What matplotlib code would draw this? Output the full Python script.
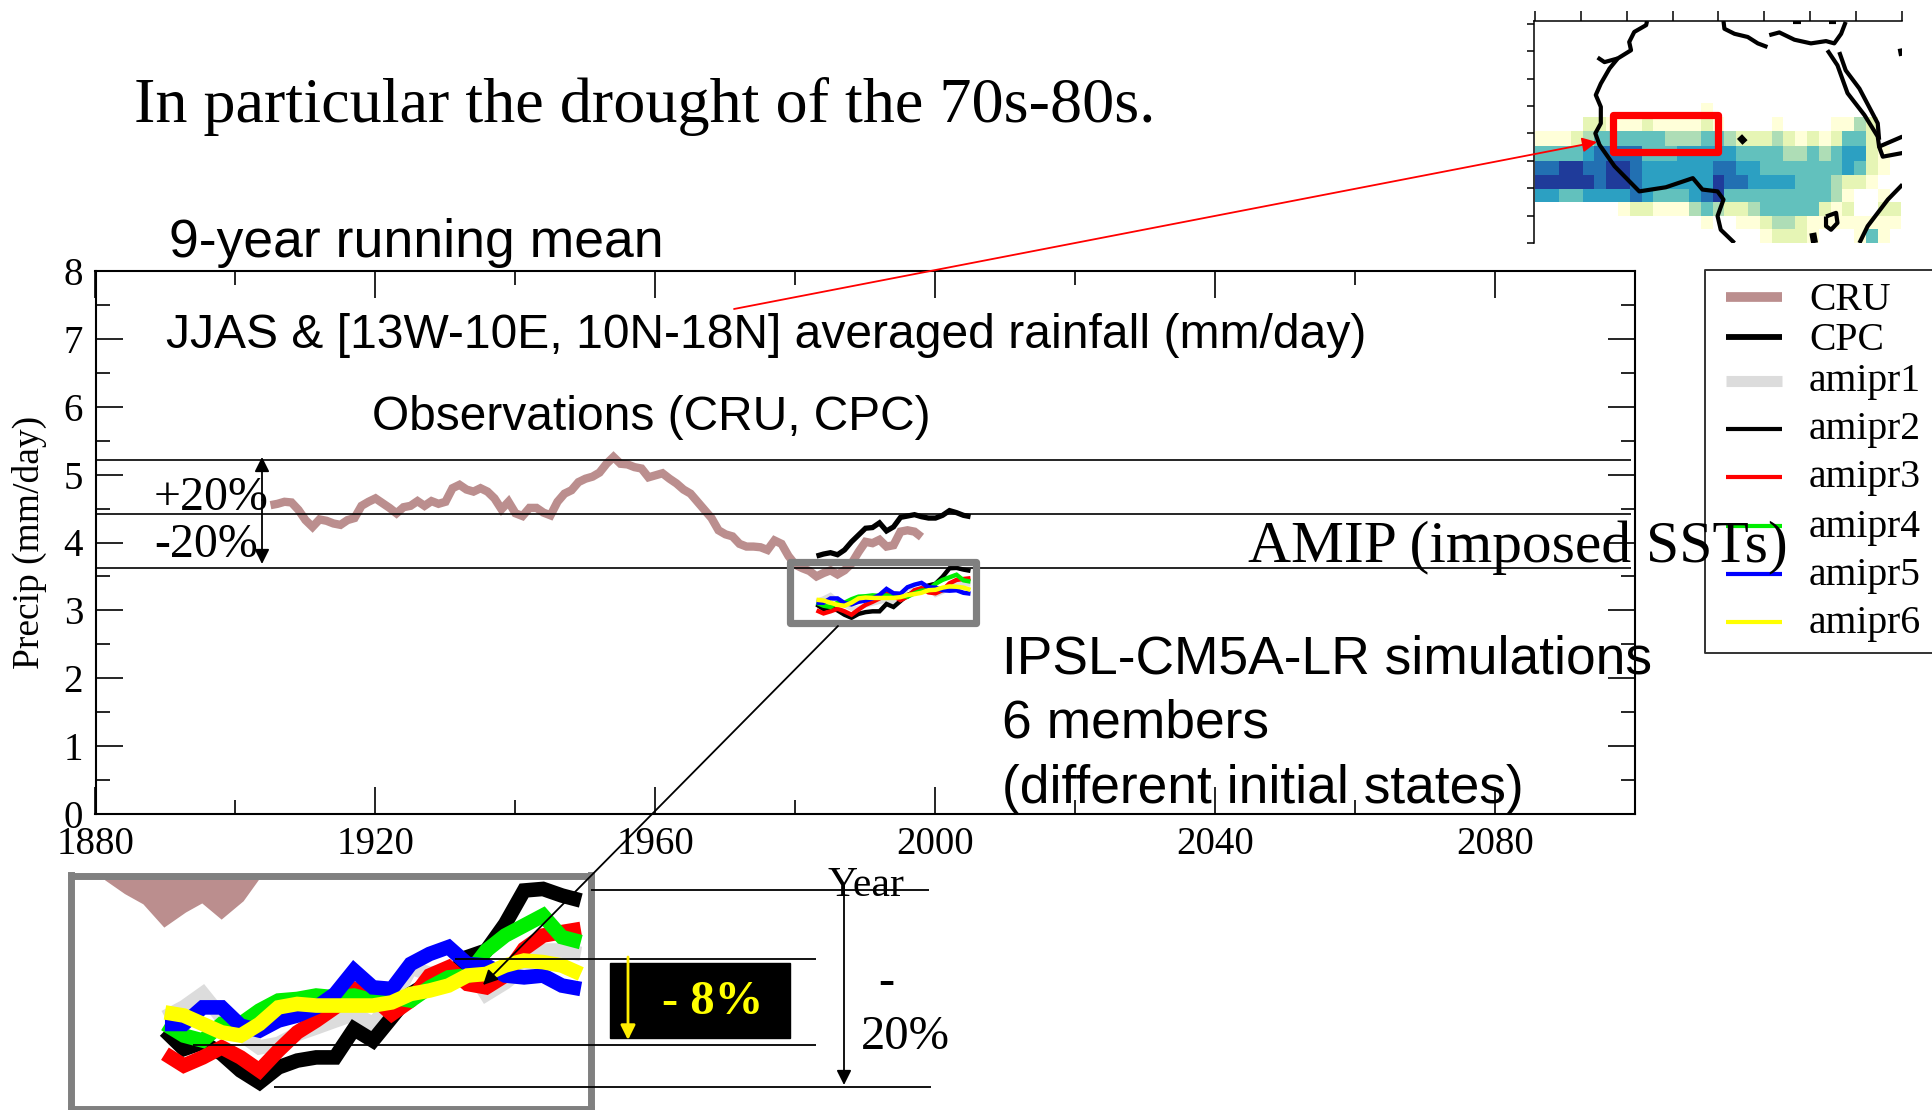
import matplotlib
matplotlib.use("Agg")
import matplotlib.pyplot as plt
from matplotlib.colors import ListedColormap
from matplotlib.patches import Rectangle
import numpy as np

plt.rcParams["font.family"] = ["Liberation Serif", "DejaVu Serif"]
plt.rcParams["lines.solid_capstyle"] = "butt"
SANS = ["Liberation Sans", "DejaVu Sans"]

# Observations
cru_years = list(range(1905, 1999))
cru = [4.55, 4.57, 4.60, 4.59, 4.48, 4.33, 4.23, 4.34, 4.32, 4.28, 4.26, 4.33, 4.36, 4.54, 4.60, 4.65,
       4.58, 4.51, 4.43, 4.52, 4.54, 4.61, 4.54, 4.61, 4.57, 4.60, 4.80, 4.85, 4.78, 4.75, 4.80, 4.75,
       4.65, 4.49, 4.60, 4.43, 4.39, 4.51, 4.51, 4.44, 4.40, 4.60, 4.72, 4.77, 4.89, 4.94, 4.97, 5.03,
       5.16, 5.26, 5.16, 5.15, 5.11, 5.09, 4.96, 4.99, 5.02, 4.94, 4.87, 4.78, 4.72, 4.60, 4.48, 4.36,
       4.18, 4.12, 4.09, 3.98, 3.94, 3.94, 3.93, 3.89, 4.03, 3.98, 3.80, 3.67, 3.62, 3.58, 3.50, 3.55,
       3.59, 3.53, 3.59, 3.69, 3.86, 4.01, 3.99, 4.04, 3.94, 3.96, 4.16, 4.18, 4.16, 4.08]
model_years = list(range(1983, 2006))
cpc = [3.80, 3.83, 3.85, 3.82, 3.89, 4.01, 4.11, 4.21, 4.22, 4.29, 4.17, 4.23, 4.37, 4.39, 4.41, 4.38,
       4.36, 4.36, 4.40, 4.47, 4.44, 4.40, 4.38]

# AMIP members
amipr1 = [3.138, 3.176, 3.227, 3.138, 3.075, 3.024, 3.037, 3.075, 3.100, 3.126, 3.151, 3.113, 3.189,
          3.328, 3.303, 3.316, 3.341, 3.227, 3.271, 3.328, 3.392, 3.392, 3.379]
amipr2 = [3.088, 3.018, 3.043, 3.000, 2.936, 2.891, 2.948, 2.974, 2.986, 2.986, 3.094, 3.050, 3.138,
          3.227, 3.271, 3.290, 3.367, 3.392, 3.493, 3.620, 3.626, 3.601, 3.582]
amipr3 = [3.000, 2.955, 2.986, 3.024, 2.986, 2.936, 3.012, 3.081, 3.126, 3.176, 3.246, 3.214, 3.151,
          3.202, 3.297, 3.328, 3.265, 3.252, 3.297, 3.398, 3.449, 3.462, 3.474]
amipr4 = [3.113, 3.069, 3.050, 3.113, 3.113, 3.164, 3.202, 3.208, 3.221, 3.214, 3.221, 3.202, 3.214,
          3.202, 3.252, 3.290, 3.297, 3.392, 3.449, 3.487, 3.525, 3.443, 3.424]
amipr5 = [3.113, 3.113, 3.176, 3.176, 3.107, 3.088, 3.126, 3.145, 3.176, 3.227, 3.316, 3.252, 3.246,
          3.341, 3.379, 3.405, 3.341, 3.335, 3.297, 3.290, 3.297, 3.259, 3.246]
amipr6 = [3.157, 3.145, 3.113, 3.081, 3.069, 3.113, 3.176, 3.189, 3.183, 3.183, 3.183, 3.183, 3.195,
          3.227, 3.240, 3.259, 3.297, 3.303, 3.335, 3.354, 3.348, 3.335, 3.303]
members = [amipr1, amipr2, amipr3, amipr4, amipr5, amipr6]
member_colors = ["#dcdcdc", "black", "red", "#00ee00", "blue", "yellow"]

ref_levels = [5.22, 4.42, 3.62]

legend_labels = ["CRU", "CPC", "amipr1", "amipr2", "amipr3", "amipr4", "amipr5", "amipr6"]
legend_colors = ["#bb8e8e", "black"] + member_colors

# Rainfall map, colour class per cell, top row first
lon_edges = [-30 + 2.58 * i for i in range(32)]
lat_edges = [20.6, 17.5, 14.5, 11.3, 8.0, 4.9, 1.9, -1.0, -4.1, -7.0, -10.0]
rain_cells = [
    [0,0,0,0,0,0,0,0,0,0,0,0,0,0,1,0,0,0,0,0,0,0,0,0,0,0,0,0,0,0,0],
    [0,0,0,0,2,2,1,1,1,2,1,1,1,1,2,1,0,0,0,0,1,0,0,0,0,1,1,3,2,0,0],
    [1,1,1,2,3,4,4,4,4,4,4,3,3,3,4,4,3,2,2,2,3,2,1,2,1,2,4,4,2,0,0],
    [4,4,4,4,5,6,6,6,6,4,4,4,5,5,5,5,5,4,4,4,4,3,3,4,3,4,5,5,2,1,0],
    [6,6,7,7,6,6,7,7,6,5,5,5,5,5,5,6,6,5,5,4,4,4,4,4,4,4,5,4,2,1,0],
    [7,7,7,7,7,6,7,7,6,5,5,5,5,5,5,7,6,6,5,5,5,5,4,4,4,3,2,2,1,0,0],
    [5,5,4,4,5,5,5,5,6,5,4,4,4,5,6,7,4,4,4,4,4,4,4,4,4,3,1,0,0,1,0],
    [0,0,0,0,0,0,0,1,2,2,1,1,1,3,4,3,2,2,3,4,4,4,4,4,2,1,2,0,0,2,2],
    [0,0,0,0,0,0,0,0,0,0,0,0,0,0,1,0,0,1,1,2,3,3,2,1,1,1,1,1,1,1,1],
    [0,0,0,0,0,0,0,0,0,0,0,0,0,0,0,0,0,0,0,1,2,2,2,1,0,0,0,1,4,1,0],
]
rain_colors = ["white", "#ffffd9", "#e6f5b5", "#aeddb6", "#62c1bd", "#2ca0c2", "#2270b2", "#1f3b9a"]

coast_lines = [
    [(-5.6,38.6),(-5.8,37.7),(-8.4,36.2),(-9.5,34.0),(-9.1,32.2),(-12.0,30.4),(-13.8,28.2),(-15.7,24.9),
     (-16.8,22.4),(-15.7,19.8),(-15.7,16.2),(-16.9,14.0),(-16.0,11.5),(-12.7,6.8),(-7.3,1.3),(-1.5,2.2),
     (4.4,4.2),(6.5,1.7),(9.8,1.3),(11.1,-0.5),(9.8,-4.1),(10.5,-7.1),(13.5,-10)],
    [(11.1,38.6),(11.3,36.9),(13.5,35.8),(16.4,35.1),(18.6,33.7),(20.7,32.9)],
    [(21.1,35.5),(23.3,36.1),(26.6,34.5),(30.2,33.7),(33.5,34.2),(35.3,33.7),(36.8,35.8),(37.8,38.4)],
    [(33.8,32.2),(36.0,28.9),(38.2,22.8),(41.9,18.0),(44.8,13.3),(45.1,11.1),(50.2,13.3)],
    [(36.4,31.8),(37.8,27.8),(40.8,23.8),(44.8,16.2),(45.1,12.6)],
    [(45.1,11.1),(45.9,8.9),(50.2,9.7)],
    [(50.2,2.8),(47,-0.5),(42.6,-6.3),(40.8,-10)],
    [(33.5,-4.2),(35.7,-3.4),(36.0,-5.6),(34.6,-7.1),(33.5,-6.3),(33.5,-4.2)],
    [(-16.4,30.6),(-14.9,29.6),(-12.0,30.4)],
    [(26.2,38.3),(28,38.3)],
    [(34.2,38.3),(35.7,38.3)],
]
lake_blobs = [[(14.6,13.3),(15.8,12.0)], [(30.6,-7.8),(31,-10)], [(49.9,32.6),(50.2,31)]]

W, H = 1932, 1110
fig = plt.figure(figsize=(W / 100, H / 100), dpi=100, facecolor="white")


def px_axes(left, top, right, bottom, **kw):
    return fig.add_axes([left / W, 1 - bottom / H, (right - left) / W, (bottom - top) / H], **kw)


def draw_members(ax, lw):
    for vals, col in zip(members, member_colors):
        ax.plot(model_years, vals, color=col, lw=lw, solid_joinstyle="miter")


# Main chart
ax = px_axes(95.5, 271, 1635.5, 814)
ax.plot(cru_years, cru, color=legend_colors[0], lw=6, solid_joinstyle="miter")
ax.plot(model_years, cpc, color="black", lw=3.8, solid_joinstyle="miter")
draw_members(ax, 3.2)
for lev in ref_levels:
    ax.plot([1880, 2099.3], [lev, lev], color="black", lw=1.2)
ax.set_xlim(1880, 2100)
ax.set_ylim(0, 8)
ax.set_xticks(np.arange(1880, 2100, 40))
ax.set_xticks(np.arange(1900, 2100, 40), minor=True)
ax.set_yticks(np.arange(0, 9, 1))
ax.set_yticks(np.arange(0.5, 8, 1), minor=True)
ax.tick_params(which="major", direction="in", top=True, right=True, length=19.5, width=1.2,
               labelsize=28, pad=9)
ax.tick_params(which="minor", direction="in", top=True, right=True, length=10, width=1.2)
for s in ax.spines.values():
    s.set_linewidth(1.5)
ax.set_xlabel("Year", fontsize=30, labelpad=2)
ax.set_ylabel("Precip (mm/day)", fontsize=27, labelpad=12)

# Enlarged view, CRU fills down from the top of the box
inset = px_axes(71, 875.5, 591, 1109)
inset.fill_between(cru_years, cru, 6, color=legend_colors[0], lw=0)
inset.plot(cru_years, cru, color=legend_colors[0], lw=6, solid_joinstyle="miter")
inset.plot(model_years, cpc, color="black", lw=10)
draw_members(inset, 10.5)
inset.set_xlim(1978.03, 2005.54)
inset.set_ylim(2.79, 3.677)
inset.set_xticks([])
inset.set_yticks([])
for s in inset.spines.values():
    s.set_linewidth(5)
    s.set_color("#808080")

# Rainfall map
mp = px_axes(1534, 21, 1902, 243)
mp.pcolormesh(lon_edges, lat_edges, np.array(rain_cells), cmap=ListedColormap(rain_colors),
              vmin=-0.5, vmax=7.5, shading="flat")
for line in coast_lines:
    mp.plot([p[0] for p in line], [p[1] for p in line], color="black", lw=3)
for line in lake_blobs:
    mp.plot([p[0] for p in line], [p[1] for p in line], color="black", lw=5)
mp.add_patch(Rectangle((-13, 10), 23, 8, fill=False, edgecolor="red", lw=5.2, joinstyle="round", zorder=5))
mp.set_xlim(-30.3, 50.1)
mp.set_ylim(-10, 38.6)
mp.set_xticks(np.arange(-30, 51, 10))
mp.set_yticks(np.arange(-10, 39, 6))
mp.tick_params(top=True, bottom=False, labeltop=False, labelbottom=False, labelleft=False,
               length=7, width=1.1)
mp.tick_params(axis="y", length=5)
mp.spines["right"].set_visible(False)
mp.spines["bottom"].set_visible(False)
mp.spines["left"].set_linewidth(1.1)
mp.spines["top"].set_linewidth(1.1)
mp.patch.set_alpha(0)

# Overlay in pixels for slide annotations
ov = fig.add_axes([0, 0, 1, 1], zorder=10)
ov.set_xlim(0, W)
ov.set_ylim(H, 0)
ov.axis("off")

# Legend
ov.plot([1945, 1705, 1705, 1945], [270, 270, 653, 653], color="#333333", lw=1.4)
legend_y = [297, 337, 381, 429, 477, 526, 574, 622]
text_y = [300, 340, 381, 429, 478, 527, 575, 623]
legend_lw = [7, 4.2, 8, 3, 3, 3, 3, 3]
for lab, col, y, ty, lw in zip(legend_labels, legend_colors, legend_y, text_y, legend_lw):
    ov.plot([1726, 1782], [y, y], color=col, lw=lw)
    ov.text(1809, ty, lab, fontsize=28.5, va="center", ha="left")

# Slide text
ov.text(134, 107, "In particular the drought of the 70s-80s.", fontsize=46.2, va="center")
ov.text(169, 243, "9-year running mean", fontsize=38.5, va="center", family=SANS)
ov.text(166, 335, "JJAS & [13W-10E, 10N-18N] averaged rainfall (mm/day)", fontsize=34.6, va="center", family=SANS)
ov.text(372, 417, "Observations (CRU, CPC)", fontsize=34.5, va="center", family=SANS)
ov.text(1248, 548, "AMIP (imposed SSTs)", fontsize=42.8, va="center")
ov.text(1002, 660, "IPSL-CM5A-LR simulations", fontsize=38.4, va="center", family=SANS)
ov.text(1002, 724, "6 members", fontsize=38.4, va="center", family=SANS)
ov.text(1002, 789, "(different initial states)", fontsize=38.4, va="center", family=SANS)
ov.text(154, 498, "+20%", fontsize=34.5, va="center")
ov.text(154, 545, "-20%", fontsize=34.5, va="center")
ov.text(886, 983, "-", fontsize=35, va="center", ha="center")
ov.text(905, 1037, "20%", fontsize=35, va="center", ha="center")

# Gray box around the model lines
ov.add_patch(Rectangle((790, 562), 186, 61, fill=False, edgecolor="#808080", lw=5.2, joinstyle="round"))

# Horizontal guides under the enlarged view
ov.plot([591, 929], [890, 890], color="black", lw=1.3)
ov.plot([455, 816], [958.5, 958.5], color="black", lw=1.3)
ov.plot([193, 816], [1045, 1045], color="black", lw=1.3)
ov.plot([274, 931], [1087, 1087], color="black", lw=1.3)

# -8% box
ov.add_patch(Rectangle((610, 963), 180, 75, color="black", zorder=3))
ov.text(713, 1002, "- 8%", color="#ffff00", fontsize=35, fontweight="bold", va="center", ha="center", zorder=4)


def arrow(x0, y0, x1, y1, color="black", lw=1.3, style="-|>", scale=22):
    ov.annotate("", xy=(x1, y1), xytext=(x0, y0), zorder=6,
                arrowprops=dict(arrowstyle=style, color=color, lw=lw, mutation_scale=scale,
                                shrinkA=0, shrinkB=0))


arrow(628, 957, 628, 1040, color="#ffee00", lw=2)
arrow(844, 891, 844, 1085)
arrow(262, 500, 262, 457)
arrow(262, 500, 262, 564)
arrow(838, 626, 483, 985)
arrow(734, 309, 1597, 142, color="red")

fig.savefig("out.png", dpi=100)
